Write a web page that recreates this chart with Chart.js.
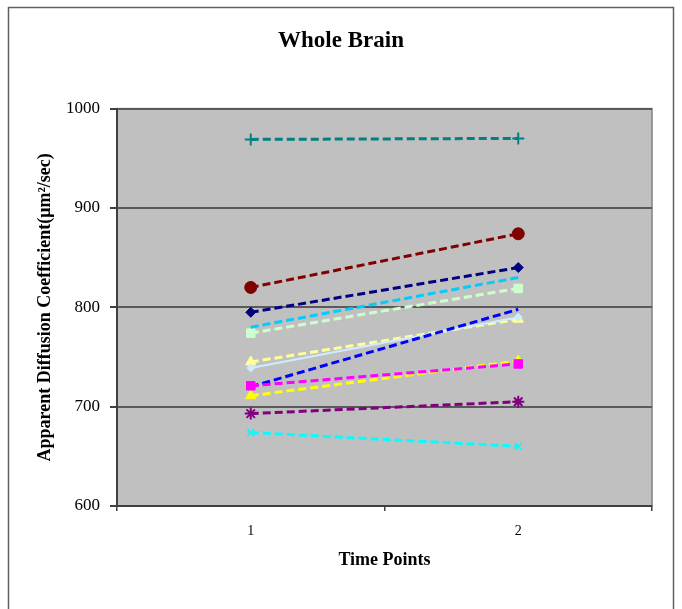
<!DOCTYPE html>
<html>
<head>
<meta charset="utf-8">
<script src="https://cdn.jsdelivr.net/npm/chart.js@4/dist/chart.umd.min.js"></script>
<style>
  html, body { margin: 0; padding: 0; background: #fff; }
  #wrap { width: 682px; height: 609px; }
</style>
</head>
<body>
<div id="wrap"><canvas id="chart" width="682" height="609"></canvas></div>
<script>
// time points on the x axis
const timePoints = ['1', '2'];

// one small array per subject (value at time point 1, time point 2)
const navy      = [795, 840];
const magenta   = [721, 743];
const yellow    = [711, 746];
const cyan      = [674, 660];
const purple    = [693, 705];
const maroon    = [820, 874];
const teal      = [969, 970];
const blue      = [720, 798];
const skyBlue   = [780, 830];
const paleBlue  = [739, 790];
const paleGreen = [774, 819];
const paleYellow = [745, 788];

const yTicks = [600, 700, 800, 900, 1000];

const serif = "'Liberation Serif', 'Times New Roman', serif";

function series(data, color, style, radius, dashed, fill) {
  return {
    data: data,
    borderColor: color,
    backgroundColor: fill || color,
    borderWidth: dashed ? 3 : 2,
    borderDash: dashed ? [8, 4] : [],
    pointStyle: style,
    pointRadius: radius,
    pointBorderWidth: (style === 'cross' || style === 'crossRot' || style === 'star') ? 2 : 1,
    pointBorderColor: color,
    pointBackgroundColor: fill || color,
    tension: 0
  };
}

// gray plot area plus the outer frame
const plotBack = {
  id: 'plotBack',
  beforeDraw(chart) {
    const { ctx, chartArea: a } = chart;
    ctx.save();
    ctx.fillStyle = '#c0c0c0';
    ctx.fillRect(a.left, a.top, a.right - a.left, a.bottom - a.top);
    ctx.strokeStyle = '#808080';
    ctx.lineWidth = 1.5;
    ctx.strokeRect(a.left, a.top, a.right - a.left, a.bottom - a.top);
    ctx.strokeStyle = '#606060';
    ctx.lineWidth = 1.5;
    ctx.strokeRect(8.5, 7.5, 665, 640);
    ctx.restore();
  }
};

new Chart(document.getElementById('chart'), {
  type: 'line',
  data: {
    labels: timePoints,
    datasets: [
      series(navy, '#000080', 'rectRot', 5, true),
      series(magenta, '#ff00ff', 'rect', 6, true),
      series(yellow, '#ffff00', 'triangle', 6, true),
      series(cyan, '#00ffff', 'crossRot', 5, true),
      series(purple, '#800080', 'star', 6, true),
      series(maroon, '#800000', 'circle', 6, true),
      series(teal, '#008080', 'cross', 6, true),
      series(blue, '#0000ff', 'circle', 0, true),
      series(skyBlue, '#00ccff', 'circle', 0, true),
      series(paleBlue, '#ccecff', 'rectRot', 4, false),
      series(paleGreen, '#ccffcc', 'rect', 6, true),
      series(paleYellow, '#ffff99', 'triangle', 6, true)
    ]
  },
  options: {
    responsive: false,
    animation: false,
    layout: { padding: { left: 30, right: 30, top: 10, bottom: 34 } },
    plugins: {
      legend: { display: false },
      tooltip: { enabled: false },
      title: {
        display: true,
        text: 'Whole Brain',
        color: '#000',
        font: { family: serif, size: 23, weight: 'bold' },
        padding: { top: 17, bottom: 54 }
      }
    },
    scales: {
      x: {
        type: 'category',
        offset: true,
        afterFit(s) { s.height = 69; },
        grid: {
          offset: true,
          drawOnChartArea: false,
          drawTicks: true,
          tickLength: 5,
          tickColor: '#404040',
          lineWidth: 1.5
        },
        border: { color: '#404040', width: 2 },
        ticks: {
          color: '#000',
          padding: 12,
          font: { family: serif, size: 14 }
        },
        title: {
          display: true,
          text: 'Time Points',
          color: '#000',
          font: { family: serif, size: 18, weight: 'bold' },
          padding: { top: 4, bottom: 4 }
        }
      },
      y: {
        min: 600,
        max: 1000,
        afterFit(s) { s.width = 87; },
        afterBuildTicks(s) { s.ticks = yTicks.map(v => ({ value: v })); },
        grid: {
          color: '#5a5a5a',
          lineWidth: 2,
          tickLength: 7,
          tickColor: '#404040'
        },
        border: { color: '#404040', width: 2 },
        ticks: {
          color: '#000',
          padding: 10,
          font: { family: serif, size: 17 },
          callback: v => String(v)
        },
        title: {
          display: true,
          text: 'Apparent Diffusion Coefficient(\u03bcm\u00b2/sec)',
          color: '#000',
          font: { family: serif, size: 18, weight: 'bold' },
          padding: { top: 5, bottom: 4 }
        }
      }
    }
  },
  plugins: [plotBack]
});
</script>
</body>
</html>
